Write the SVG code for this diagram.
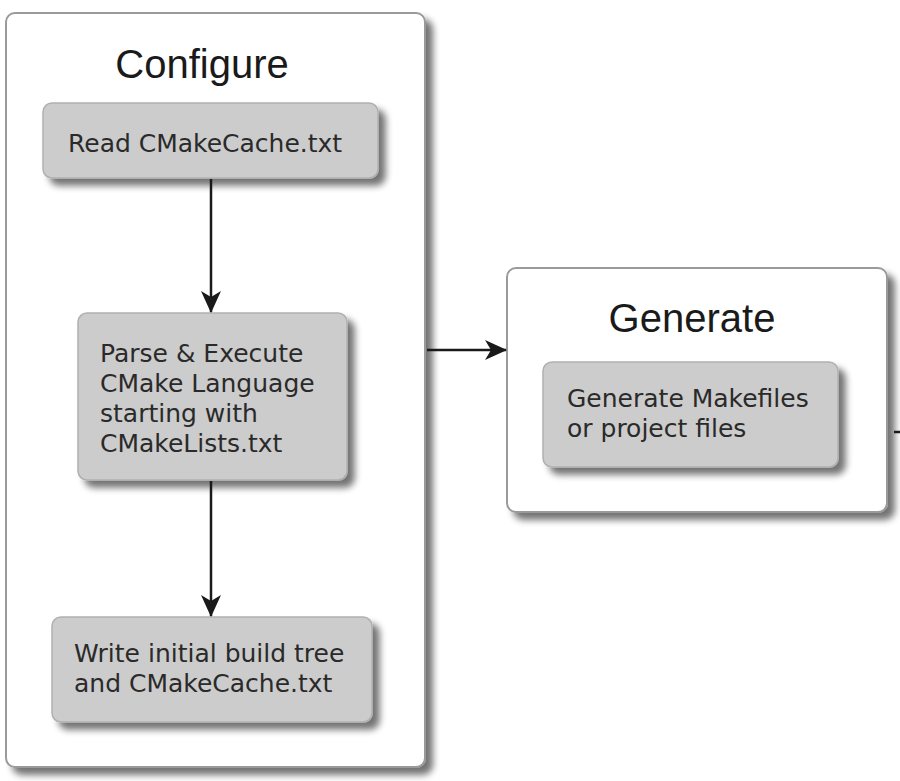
<svg xmlns="http://www.w3.org/2000/svg" width="900" height="781" viewBox="0 0 900 781">
<style>
.outer{fill:#ffffff;stroke:#9a9a9a;stroke-width:2}
.inner{fill:#cccccc;stroke:#b0b0b0;stroke-width:1.5}
.title{font-family:"Liberation Sans",Arial,sans-serif;font-size:40px;fill:#1a1a1a;text-anchor:middle}
.lbl{font-family:"DejaVu Sans",Verdana,sans-serif;font-size:25px;fill:#2a2a2a}
.conn{stroke:#1a1a1a;stroke-width:2.5;fill:none}
</style>
<defs>
<filter id="sh" x="-10%" y="-10%" width="130%" height="130%">
<feGaussianBlur in="SourceAlpha" stdDeviation="3.5"/>
<feOffset dx="7" dy="7" result="b"/>
<feComponentTransfer><feFuncA type="linear" slope="0.55"/></feComponentTransfer>
<feMerge><feMergeNode/><feMergeNode in="SourceGraphic"/></feMerge>
</filter>
<marker id="arr" viewBox="0 0 22 20" refX="21" refY="10" markerWidth="22" markerHeight="20" markerUnits="userSpaceOnUse" orient="auto">
<path d="M0,0 L22,10 L0,20 L6,10 Z" fill="#1a1a1a"/>
</marker>
</defs>
<g id="configure">
<rect class="outer" x="6" y="13" width="419" height="754" rx="9" filter="url(#sh)"/>
<text class="title" x="202" y="78">Configure</text>
</g>
<g id="read-cache">
<rect class="inner" x="43" y="103" width="335" height="75" rx="9" filter="url(#sh)"/>
<text class="lbl" x="68" y="152">Read CMakeCache.txt</text>
</g>
<g id="parse-execute">
<rect class="inner" x="78" y="313" width="269" height="167" rx="9" filter="url(#sh)"/>
<text class="lbl" x="100" y="362">Parse &amp; Execute</text>
<text class="lbl" x="100" y="392">CMake Language</text>
<text class="lbl" x="100" y="422">starting with</text>
<text class="lbl" x="100" y="452">CMakeLists.txt</text>
</g>
<g id="write-tree">
<rect class="inner" x="52" y="617" width="320" height="105" rx="9" filter="url(#sh)"/>
<text class="lbl" x="74" y="662">Write initial build tree</text>
<text class="lbl" x="74" y="692">and CMakeCache.txt</text>
</g>
<g id="generate">
<rect class="outer" x="507" y="268" width="380" height="244" rx="9" filter="url(#sh)"/>
<text class="title" x="692" y="332">Generate</text>
</g>
<g id="generate-files">
<rect class="inner" x="543" y="362" width="295" height="105" rx="9" filter="url(#sh)"/>
<text class="lbl" x="567" y="407">Generate Makefiles</text>
<text class="lbl" x="567" y="437">or project files</text>
</g>
<g id="connectors">
<line class="conn" x1="211" y1="179" x2="211" y2="312" marker-end="url(#arr)"/>
<line class="conn" x1="211" y1="481" x2="211" y2="616" marker-end="url(#arr)"/>
<line class="conn" x1="427" y1="350" x2="506" y2="350" marker-end="url(#arr)"/>
<line class="conn" x1="894" y1="432" x2="900" y2="432"/>
</g>
</svg>
